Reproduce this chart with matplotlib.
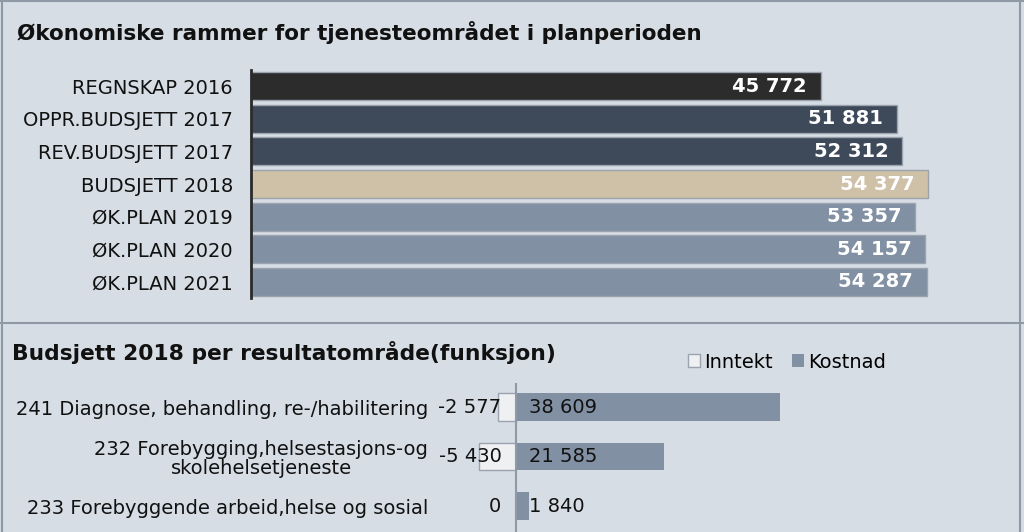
import matplotlib.pyplot as plt
from matplotlib.patches import Patch
from matplotlib.lines import Line2D

# top chart data
periods = ["REGNSKAP 2016", "OPPR.BUDSJETT 2017", "REV.BUDSJETT 2017", "BUDSJETT 2018",
           "ØK.PLAN 2019", "ØK.PLAN 2020", "ØK.PLAN 2021"]
rammer = [45772, 51881, 52312, 54377, 53357, 54157, 54287]
period_colors = ["#2c2c2d", "#3e4a5a", "#3e4a5a", "#cfc1a7", "#8190a3", "#8190a3", "#8190a3"]

# bottom chart data
funksjoner = ["241 Diagnose, behandling, re-/habilitering",
              "232 Forebygging,helsestasjons-og\nskolehelsetjeneste",
              "233 Forebyggende arbeid,helse og sosial"]
inntekt = [-2577, -5430, 0]
kostnad = [38609, 21585, 1840]

BG = "#d6dde4"
LINE = "#8f99a6"
W, H = 1024, 532


def fmt(v):
    return f"{v:,}".replace(",", " ")


def px_axes(fig, x0, y0, x1, y1):
    # pixel box (top-left origin) -> figure fraction axes
    return fig.add_axes([x0 / W, 1 - y1 / H, (x1 - x0) / W, (y1 - y0) / H])


fig = plt.figure(figsize=(W / 100, H / 100), dpi=100, facecolor=BG)

# frame lines
for seg in [((2, 2), (0, H)), ((1020, 1020), (0, H)), ((0, W), (1, 1)), ((0, W), (323, 323))]:
    fig.add_artist(Line2D([s / W for s in seg[0]], [1 - s / H for s in seg[1]],
                          color=LINE, lw=1.5))

fig.text(17 / W, 1 - 33 / H, "Økonomiske rammer for tjenesteområdet i planperioden",
         fontsize=15.5, fontweight="bold", va="center", ha="left", color="#111111")

# ---- top chart
ax1 = px_axes(fig, 251, 70, 951, 298)
ax1.set_facecolor("none")
scale1 = 570 / 45772  # px per unit
ax1.set_xlim(0, 700 / scale1)
ax1.set_ylim(len(periods) - 0.5, -0.5)
ypos = list(range(len(periods)))
ax1.barh(ypos, rammer, height=0.86, color=period_colors, edgecolor="#9aa3ae", linewidth=1)
for y, v in zip(ypos, rammer):
    ax1.annotate(fmt(v), xy=(v, y), xytext=(-10, 0), textcoords="offset points",
                 ha="right", va="center", color="white", fontsize=14, fontweight="bold")
ax1.set_yticks(ypos)
ax1.set_yticklabels(periods, fontsize=14, color="#111111")
ax1.tick_params(axis="y", length=0, pad=13)
ax1.set_xticks([])
for s in ["top", "right", "bottom"]:
    ax1.spines[s].set_visible(False)
ax1.spines["left"].set_color("#2a2a2a")
ax1.spines["left"].set_linewidth(2)

# ---- bottom chart
fig.text(12 / W, 1 - 352 / H, "Budsjett 2018 per resultatområde(funksjon)",
         fontsize=15.7, fontweight="bold", va="center", ha="left", color="#111111")

ax2 = px_axes(fig, 460, 383, 1000, 532)
ax2.set_facecolor("none")
scale2 = 264 / 38609
ax2.set_xlim(-(516 - 460) / scale2, (1000 - 516) / scale2)
ax2.set_ylim(2.525, -0.485)
ypos2 = list(range(len(funksjoner)))
ax2.barh(ypos2, inntekt, height=0.55, color="#eef0f2", edgecolor="#9aa3ae", linewidth=1,
         label="Inntekt")
ax2.barh(ypos2, kostnad, height=0.55, color="#8190a3", edgecolor="none", label="Kostnad")
ax2.axvline(0, color="#9099a5", lw=1.5)
for y, vi, vk in zip(ypos2, inntekt, kostnad):
    ax2.annotate(fmt(vi), xy=(0, y), xytext=(-10.5, 0), textcoords="offset points",
                 ha="right", va="center", color="#111111", fontsize=14)
    ax2.annotate(fmt(vk), xy=(0, y), xytext=(9.5, 0), textcoords="offset points",
                 ha="left", va="center", color="#111111", fontsize=14)
ax2.set_yticks(ypos2)
ax2.set_yticklabels(funksjoner, fontsize=14, color="#111111", multialignment="center",
                    linespacing=1.05)
ax2.tick_params(axis="y", length=0, pad=23)
ax2.set_xticks([])
for s in ax2.spines.values():
    s.set_visible(False)

handles = [Patch(facecolor="#eef0f2", edgecolor="#9aa3ae", label="Inntekt"),
           Patch(facecolor="#8190a3", edgecolor="none", label="Kostnad")]
fig.legend(handles=handles, loc="center left", bbox_to_anchor=(688 / W, 1 - 362 / H),
           ncol=2, frameon=False, fontsize=14, handlelength=0.62, handleheight=0.62,
           handletextpad=0.2, columnspacing=1.0, borderaxespad=0, borderpad=0)

fig.savefig("out.png", dpi=100, facecolor=BG)
